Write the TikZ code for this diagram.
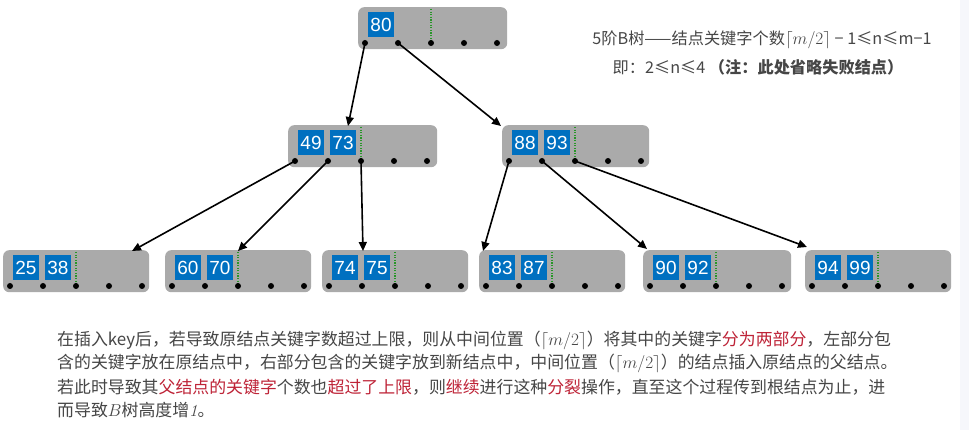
\documentclass[tikz,border=0pt]{standalone}
\usepackage{fontspec}
\setmainfont{Noto Sans CJK SC}
\newfontfamily\keyfont{Liberation Sans}
\newfontfamily\lmfont{Latin Modern Roman}
\usetikzlibrary{arrows.meta,calc}
\definecolor{nodegray}{RGB}{170,170,170}
\definecolor{keyblue}{RGB}{0,112,192}
\definecolor{dotgreen}{RGB}{40,150,40}
\definecolor{txtgray}{RGB}{70,70,70}
\definecolor{hlred}{RGB}{190,35,55}
\definecolor{stripbg}{RGB}{246,247,251}
\tikzset{
  graybox/.style={fill=nodegray, rounded corners=6pt, anchor=north west, minimum height=42pt, inner sep=0pt},
  keybox/.style={fill=keyblue, text=white, minimum width=26pt, minimum height=25pt, inner sep=0pt, font=\keyfont\fontsize{19}{19}\selectfont},
  ptrdot/.style={circle, fill=black, minimum size=6pt, inner sep=0pt},
  greenline/.style={draw=dotgreen, line width=1.2pt, dash pattern=on 1.2pt off 1.4pt},
  arr/.style={draw=black, line width=1.6pt, -{Triangle[length=9pt,width=8pt]}},
  notetxt/.style={text=txtgray, font=\fontsize{16.2}{18}\selectfont, inner sep=0pt},
  paratxt/.style={text=txtgray, font=\fontsize{16.9}{20}\selectfont, inner sep=0pt, anchor=west}
}
\newcommand{\hlr}[1]{\textcolor{hlred}{#1}}
% #1 name, #2 left x, #3 top y, #4 width, #5 keys
\newcommand{\btnode}[5]{%
  \node[graybox, minimum width=#4pt] (#1) at (#2,#3) {};
  \draw[greenline] ([xshift=73pt,yshift=-2pt]#1.north west) -- ([xshift=73pt,yshift=-34pt]#1.north west);
  \foreach \k [count=\i from 0] in {#5} {
    \node[keybox] (#1-k\i) at ([xshift={23pt+32pt*\i},yshift=-18pt]#1.north west) {\k};
  }
  \foreach \j in {1,...,5} {
    \node[ptrdot] (#1-d\j) at ([xshift={7pt+33pt*(\j-1)},yshift=-36pt]#1.north west) {};
  }
}
\begin{document}
\begin{tikzpicture}[x=1pt,y=-1pt]
\useasboundingbox (0,0) rectangle (969,430);
\fill[white] (0,0) rectangle (960,430);
\fill[stripbg] (960,0) rectangle (969,430);

% nodes
\btnode{r}{358}{7}{149}{80}
\btnode{b1}{288}{125}{149}{49,73}
\btnode{b2}{502}{125}{147}{88,93}
\btnode{l1}{3}{250}{146}{25,38}
\btnode{l2}{165}{250}{146}{60,70}
\btnode{l3}{322}{250}{146}{74,75}
\btnode{l4}{479}{250}{146}{83,87}
\btnode{l5}{643}{250}{148}{90,92}
\btnode{l6}{805}{250}{146}{94,99}

% pointers
\draw[arr] (r-d1.center) -- ([xshift=60pt,yshift=-1pt]b1.north west);
\draw[arr] (r-d2.center) -- ([xshift=-1pt,yshift=-1pt]b2.north west);
\draw[arr] (b1-d1.center) -- ([xshift=129pt,yshift=-1pt]l1.north west);
\draw[arr] (b1-d2.center) -- ([xshift=73pt,yshift=-1pt]l2.north west);
\draw[arr] (b1-d3.center) -- ([xshift=41pt,yshift=-1pt]l3.north west);
\draw[arr] (b2-d1.center) -- ([xshift=4pt,yshift=-1pt]l4.north west);
\draw[arr] (b2-d2.center) -- ([xshift=4pt,yshift=1pt]l5.north west);
\draw[arr] (b2-d3.center) -- ([xshift=2pt,yshift=3pt]l6.north west);

% note
\node[notetxt] (n1) at (762,40) {5阶B树——结点关键字个数$\lceil m/2\rceil$ − 1≤n≤m−1};
\node[notetxt] (n2) at (758,67) {即：2≤n≤4 \textbf{（注：此处省略失败结点）}};

% paragraph
\node[paratxt] (p1) at (57,340) {在插入key后，若导致原结点关键字数超过上限，则从中间位置（$\lceil m/2\rceil$）将其中的关键字\hlr{分为两部分}，左部分包};
\node[paratxt] (p2) at (57,363.5) {含的关键字放在原结点中，右部分包含的关键字放到新结点中，中间位置（$\lceil m/2\rceil$）的结点插入原结点的父结点。};
\node[paratxt] (p3) at (57,387) {若此时导致其\hlr{父结点的关键字}个数也\hlr{超过了上限}，则\hlr{继续}进行这种\hlr{分裂}操作，直至这个过程传到根结点为止，进};
\node[paratxt] (p4) at (57,410.5) {而导致$B$树高度增{\lmfont\itshape 1}。};
\end{tikzpicture}
\end{document}
